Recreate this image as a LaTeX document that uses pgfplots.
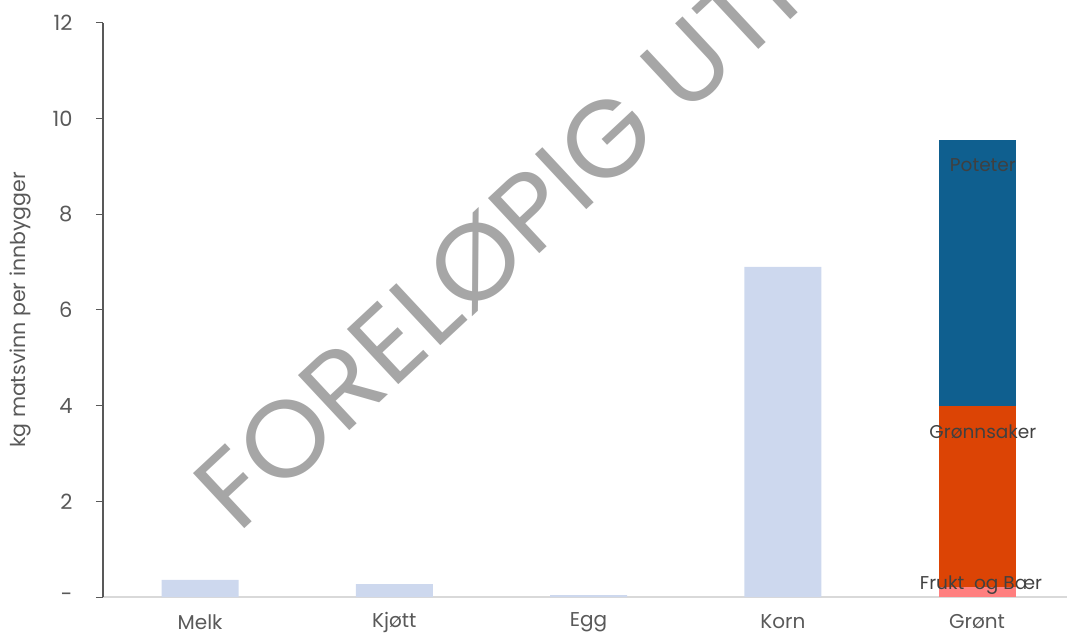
\documentclass[border=0pt]{standalone}
\usepackage{pgfplots}
\pgfplotsset{compat=1.18}
\usepackage{fontspec}
\setmainfont{Poppins}
\definecolor{barblue}{HTML}{CDD8EE}
\definecolor{potblue}{HTML}{0F5F8F}
\definecolor{gronn}{HTML}{DC4405}
\definecolor{frukt}{HTML}{FF7F7F}
\definecolor{txt}{HTML}{595959}
\definecolor{lbl}{HTML}{404040}
\definecolor{wm}{HTML}{A6A6A6}
\definecolor{xline}{HTML}{D9D9D9}
\begin{document}
\begin{tikzpicture}
\begin{axis}[
  at={(103pt,38pt)}, anchor=south west,
  scale only axis, width=964pt, height=574pt,
  xmin=-0.5, xmax=4.463, ymin=0, ymax=12,
  ytick={0,2,4,6,8,10,12}, yticklabels={-,2,4,6,8,10,12},
  xtick={0,1,2,3,4}, xticklabels={Melk,Kjøtt,Egg,Korn,Grønt},
  axis x line*=bottom, axis y line*=left,
  x axis line style={draw=xline, line width=1.2pt},
  y axis line style={draw=txt, line width=1.5pt},
  xtick style={draw=none},
  ytick style={draw=txt, line width=1pt},
  tick align=outside, major tick length=7pt,
  ticklabel style={text=txt},
  yticklabel style={anchor=east, xshift=-20pt, font=\fontsize{21}{23}\selectfont},
  xticklabel style={anchor=center, yshift=-18pt, font=\fontsize{20}{22}\selectfont},
  ylabel={kg matsvinn per innbygger},
  ylabel style={at={(axis description cs:-0.086,0.5)}, anchor=center, font=\fontsize{20.5}{22}\selectfont, text=txt},
  ybar, bar width=0.396, bar shift=0pt,
  clip=false,
]
\addplot[fill=barblue, draw=none] coordinates {(0,0.36) (1,0.27) (2,0.04) (3,6.9)};
\addplot[fill=potblue, draw=none] coordinates {(4,9.56)};
\addplot[fill=gronn, draw=none] coordinates {(4,4.0)};
\addplot[fill=frukt, draw=none] coordinates {(4,0.2)};
\node[text=lbl, font=\fontsize{18.5}{20}\selectfont] at (axis cs:4.03,9.03) {Poteter};
\node[text=lbl, font=\fontsize{18.5}{20}\selectfont] at (axis cs:4.03,3.45) {Grønnsaker};
\node[text=lbl, font=\fontsize{18.5}{20}\selectfont] at (axis cs:4.02,0.25) {Frukt\ \ og Bær};
\end{axis}
\begin{scope}
\clip (0pt,0pt) rectangle (1067pt,635pt);
\node[rotate=43, xscale=1.03, anchor=base west, inner sep=0, text=wm, font=\fontsize{108}{120}\selectfont] at (238pt,100pt) {FORELØPIG UTKAST};
\end{scope}
\pgfresetboundingbox
\useasboundingbox (0pt,0pt) rectangle (1067pt,635pt);
\end{tikzpicture}
\end{document}
